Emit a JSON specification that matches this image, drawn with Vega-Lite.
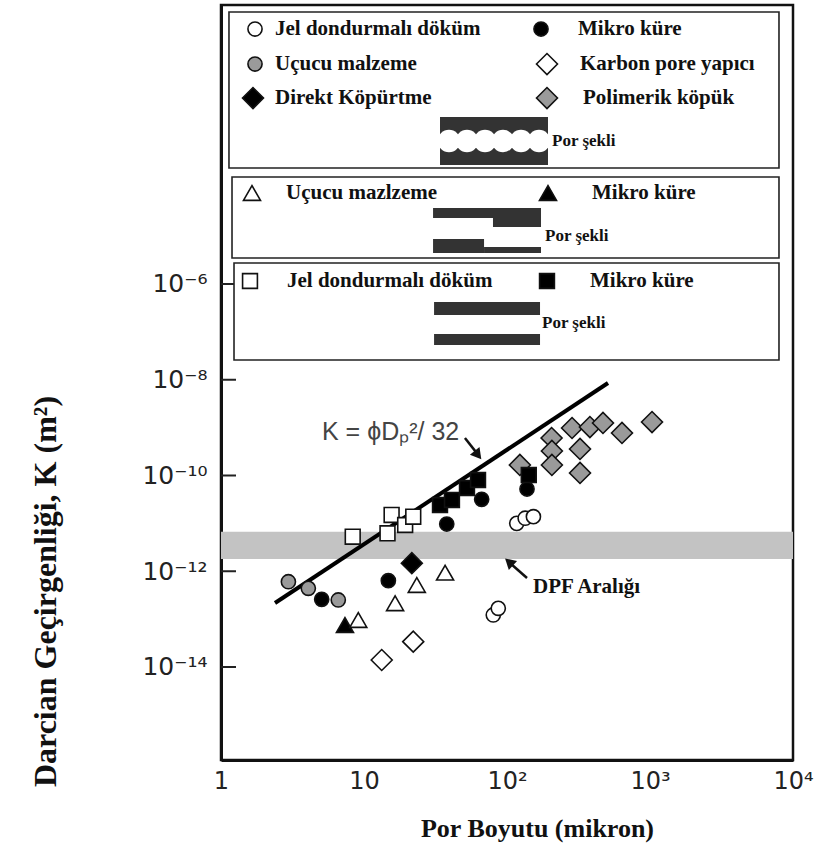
{
  "$schema": "https://vega.github.io/schema/vega-lite/v6.json",
  "width": 572,
  "height": 755,
  "autosize": "none",
  "padding": {"left": 221, "top": 5, "right": 25, "bottom": 85},
  "background": "white",
  "config": {"view": {"stroke": "#111", "strokeWidth": 2.5}, "axis": {"grid": false}},
  "layer": [
    {
      "data": {"values": [{"y": 6.7e-12, "y2": 1.8e-12}]},
      "mark": {"type": "rect", "color": "#c3c3c3"},
      "encoding": {
        "y": {"field": "y", "type": "quantitative", "scale": {"type": "log", "domain": [1.141e-16, 0.6725], "nice": false}},
        "y2": {"field": "y2"}
      }
    },
    {
      "data": {"values": [{"y": 1e-6}, {"y": 1e-8}, {"y": 1e-10}, {"y": 1e-12}, {"y": 1e-14}]},
      "mark": {"type": "rule", "color": "#222", "strokeWidth": 2},
      "encoding": {
        "x": {"datum": 1, "type": "quantitative", "scale": {"type": "log", "domain": [1, 10000], "nice": false}},
        "x2": {"datum": 1.273},
        "y": {"field": "y", "type": "quantitative", "scale": {"type": "log", "domain": [1.141e-16, 0.6725], "nice": false}}
      }
    },
    {
      "data": {"values": [{"x": 2.386, "y": 2.17e-13}, {"x": 508.5, "y": 8.55e-9}]},
      "mark": {"type": "line", "color": "#000", "strokeWidth": 4},
      "encoding": {
        "x": {"field": "x", "type": "quantitative", "scale": {"type": "log", "domain": [1, 10000], "nice": false}},
        "y": {"field": "y", "type": "quantitative", "scale": {"type": "log", "domain": [1.141e-16, 0.6725], "nice": false}}
      }
    },
    {
      "data": {"values": [
        {"x": 1.137, "x2": 7980, "y": 0.48, "y2": 2.65e-4},
        {"x": 1.194, "x2": 7980, "y": 1.72e-4, "y2": 3.49e-6},
        {"x": 1.233, "x2": 7980, "y": 2.75e-6, "y2": 2.59e-8}
      ]},
      "mark": {"type": "rect", "fill": "white", "stroke": "#222", "strokeWidth": 1.6},
      "encoding": {
        "x": {"field": "x", "type": "quantitative", "scale": {"type": "log", "domain": [1, 10000], "nice": false}},
        "x2": {"field": "x2"},
        "y": {"field": "y", "type": "quantitative", "scale": {"type": "log", "domain": [1.141e-16, 0.6725], "nice": false}},
        "y2": {"field": "y2"}
      }
    },
    {
      "data": {"values": [
        {"x": 34.0, "x2": 193.5, "y": 3.08e-3, "y2": 3.06e-4},
        {"x": 30.4, "x2": 172.9, "y": 3.87e-5, "y2": 2.39e-5},
        {"x": 79.8, "x2": 172.9, "y": 2.39e-5, "y2": 1.55e-5},
        {"x": 30.4, "x2": 69.1, "y": 8.71e-6, "y2": 4.44e-6},
        {"x": 69.1, "x2": 172.9, "y": 5.93e-6, "y2": 4.44e-6},
        {"x": 30.9, "x2": 170.2, "y": 4.21e-7, "y2": 2.25e-7},
        {"x": 30.9, "x2": 170.2, "y": 9.03e-8, "y2": 5.32e-8}
      ]},
      "mark": {"type": "rect", "fill": "#333"},
      "encoding": {
        "x": {"field": "x", "type": "quantitative", "scale": {"type": "log", "domain": [1, 10000], "nice": false}},
        "x2": {"field": "x2"},
        "y": {"field": "y", "type": "quantitative", "scale": {"type": "log", "domain": [1.141e-16, 0.6725], "nice": false}},
        "y2": {"field": "y2"}
      }
    },
    {
      "data": {"values": [
        {"x": 39.3, "y": 9.71e-4}, {"x": 52.5, "y": 9.71e-4}, {"x": 70.2, "y": 9.71e-4},
        {"x": 93.8, "y": 9.71e-4}, {"x": 125.3, "y": 9.71e-4}, {"x": 167.4, "y": 9.71e-4}
      ]},
      "mark": {"type": "point", "shape": "circle", "filled": true, "fill": "white", "size": 500, "opacity": 1},
      "encoding": {
        "x": {"field": "x", "type": "quantitative", "scale": {"type": "log", "domain": [1, 10000], "nice": false}},
        "y": {"field": "y", "type": "quantitative", "scale": {"type": "log", "domain": [1.141e-16, 0.6725], "nice": false}}
      }
    },
    {
      "data": {"values": [
        {"grup": "polimerik", "x": 123, "y": 1.66e-10},
        {"grup": "polimerik", "x": 205, "y": 6.07e-10},
        {"grup": "polimerik", "x": 206, "y": 3.25e-10},
        {"grup": "polimerik", "x": 206, "y": 1.66e-10},
        {"grup": "polimerik", "x": 285, "y": 9.82e-10},
        {"grup": "polimerik", "x": 324, "y": 3.58e-10},
        {"grup": "polimerik", "x": 324, "y": 1.13e-10},
        {"grup": "polimerik", "x": 380, "y": 1.03e-9},
        {"grup": "polimerik", "x": 469, "y": 1.25e-9},
        {"grup": "polimerik", "x": 637, "y": 7.73e-10},
        {"grup": "polimerik", "x": 1033, "y": 1.31e-9},
        {"grup": "ucucu_daire", "x": 2.96, "y": 6.05e-13},
        {"grup": "ucucu_daire", "x": 4.08, "y": 4.4e-13},
        {"grup": "ucucu_daire", "x": 6.61, "y": 2.51e-13},
        {"grup": "mikro_daire", "x": 5.06, "y": 2.59e-13},
        {"grup": "mikro_daire", "x": 14.8, "y": 6.35e-13},
        {"grup": "mikro_daire", "x": 37.9, "y": 9.7e-12},
        {"grup": "mikro_daire", "x": 66.5, "y": 3.18e-11},
        {"grup": "mikro_daire", "x": 138, "y": 5.22e-11},
        {"grup": "mikro_ucgen", "x": 7.36, "y": 7.53e-14},
        {"grup": "ucucu_ucgen", "x": 9.12, "y": 9.6e-14},
        {"grup": "ucucu_ucgen", "x": 16.5, "y": 2.14e-13},
        {"grup": "ucucu_ucgen", "x": 23.4, "y": 5.16e-13},
        {"grup": "ucucu_ucgen", "x": 36.9, "y": 9.33e-13},
        {"grup": "direkt", "x": 21.6, "y": 1.47e-12},
        {"grup": "karbon", "x": 13.3, "y": 1.4e-14},
        {"grup": "karbon", "x": 22.1, "y": 3.38e-14},
        {"grup": "jel_daire", "x": 80.2, "y": 1.22e-13},
        {"grup": "jel_daire", "x": 86.9, "y": 1.68e-13},
        {"grup": "jel_daire", "x": 117, "y": 1.0e-11},
        {"grup": "jel_daire", "x": 134, "y": 1.28e-11},
        {"grup": "jel_daire", "x": 153, "y": 1.38e-11},
        {"grup": "jel_kare", "x": 8.34, "y": 5.27e-12},
        {"grup": "jel_kare", "x": 14.6, "y": 6.2e-12},
        {"grup": "jel_kare", "x": 15.6, "y": 1.5e-11},
        {"grup": "jel_kare", "x": 19.4, "y": 9.25e-12},
        {"grup": "jel_kare", "x": 22.1, "y": 1.38e-11},
        {"grup": "mikro_kare", "x": 34.0, "y": 2.42e-11},
        {"grup": "mikro_kare", "x": 41.2, "y": 3.08e-11},
        {"grup": "mikro_kare", "x": 52.5, "y": 5.48e-11},
        {"grup": "mikro_kare", "x": 62.7, "y": 8.05e-11},
        {"grup": "mikro_kare", "x": 142, "y": 1.02e-10}
      ]},
      "mark": {"type": "point", "filled": true, "stroke": "#111", "strokeWidth": 1.6, "opacity": 1},
      "encoding": {
        "x": {
          "field": "x", "type": "quantitative",
          "scale": {"type": "log", "domain": [1, 10000], "nice": false},
          "axis": {
            "values": [1, 10, 100, 1000, 10000],
            "labelExpr": "datum.value < 5 ? '1' : datum.value < 50 ? '10' : datum.value < 500 ? '10²' : datum.value < 5000 ? '10³' : '10⁴'",
            "labelFont": "DejaVu Sans", "labelFontSize": 24, "labelColor": "#222",
            "labelPadding": 9, "labelFlush": false, "labelOverlap": false,
            "ticks": false, "domainColor": "#111", "domainWidth": 3,
            "title": "Por Boyutu (mikron)",
            "titleFont": "Liberation Serif", "titleFontSize": 26, "titleFontWeight": "bold", "titleColor": "#111",
            "titleX": 316, "titleY": 68, "titleAlign": "center", "titleBaseline": "middle"
          }
        },
        "y": {
          "field": "y", "type": "quantitative",
          "scale": {"type": "log", "domain": [1.141e-16, 0.6725], "nice": false},
          "axis": {
            "values": [1e-6, 1e-8, 1e-10, 1e-12, 1e-14],
            "labelExpr": "'10' + (round(log(datum.value)/LN10) == -6 ? '⁻⁶' : round(log(datum.value)/LN10) == -8 ? '⁻⁸' : round(log(datum.value)/LN10) == -10 ? '⁻¹⁰' : round(log(datum.value)/LN10) == -12 ? '⁻¹²' : '⁻¹⁴')",
            "labelFont": "DejaVu Sans", "labelFontSize": 25, "labelColor": "#222",
            "labelPadding": 14, "labelOverlap": false,
            "ticks": false, "domainColor": "#111", "domainWidth": 3,
            "title": "Darcian Geçirgenliği, K (m²)",
            "titleFont": "Liberation Serif", "titleFontSize": 32, "titleFontWeight": "bold", "titleColor": "#111",
            "titleX": -176, "titleY": 586, "titleAngle": 270, "titleAlign": "center", "titleBaseline": "middle"
          }
        },
        "shape": {"field": "grup", "type": "nominal", "legend": null,
          "scale": {"domain": ["jel_daire","ucucu_daire","direkt","mikro_daire","karbon","polimerik","ucucu_ucgen","mikro_ucgen","jel_kare","mikro_kare"],
                    "range": ["circle","circle","diamond","circle","diamond","diamond","triangle-up","triangle-up","square","square"]}},
        "fill": {"field": "grup", "type": "nominal", "legend": null,
          "scale": {"domain": ["jel_daire","ucucu_daire","direkt","mikro_daire","karbon","polimerik","ucucu_ucgen","mikro_ucgen","jel_kare","mikro_kare"],
                    "range": ["#ffffff","#9a9a9a","#000000","#000000","#ffffff","#9a9a9a","#ffffff","#000000","#ffffff","#000000"]}},
        "size": {"field": "grup", "type": "nominal", "legend": null,
          "scale": {"type": "ordinal", "domain": ["jel_daire","ucucu_daire","direkt","mikro_daire","karbon","polimerik","ucucu_ucgen","mikro_ucgen","jel_kare","mikro_kare"],
                    "range": [200,200,440,200,440,440,290,290,220,220]}}
      }
    },
    {
      "data": {"values": [
        {"grup": "jel_daire", "sx": 1.729, "tx": 2.386, "y": 0.212, "etiket": "Jel dondurmalı döküm"},
        {"grup": "mikro_daire", "sx": 172.9, "tx": 313.7, "y": 0.212, "etiket": "Mikro küre"},
        {"grup": "ucucu_daire", "sx": 1.729, "tx": 2.386, "y": 0.03937, "etiket": "Uçucu malzeme"},
        {"grup": "karbon", "sx": 190.4, "tx": 324.0, "y": 0.03937, "etiket": "Karbon pore yapıcı"},
        {"grup": "direkt", "sx": 1.674, "tx": 2.386, "y": 7.67e-3, "etiket": "Direkt Köpürtme"},
        {"grup": "polimerik", "sx": 190.4, "tx": 340.1, "y": 7.67e-3, "etiket": "Polimerik köpük"},
        {"grup": "ucucu_ucgen", "sx": 1.647, "tx": 2.848, "y": 7.96e-5, "etiket": "Uçucu mazlzeme"},
        {"grup": "mikro_ucgen", "sx": 193.5, "tx": 393.0, "y": 7.96e-5, "etiket": "Mikro küre"},
        {"grup": "jel_kare", "sx": 1.595, "tx": 2.894, "y": 1.155e-6, "etiket": "Jel dondurmalı döküm"},
        {"grup": "mikro_kare", "sx": 190.4, "tx": 380.6, "y": 1.155e-6, "etiket": "Mikro küre"}
      ]},
      "layer": [
        {
          "mark": {"type": "point", "filled": true, "stroke": "#111", "strokeWidth": 1.6, "opacity": 1},
          "encoding": {
            "x": {"field": "sx", "type": "quantitative", "scale": {"type": "log", "domain": [1, 10000], "nice": false}},
            "y": {"field": "y", "type": "quantitative", "scale": {"type": "log", "domain": [1.141e-16, 0.6725], "nice": false}},
            "shape": {"field": "grup", "type": "nominal", "legend": null,
              "scale": {"domain": ["jel_daire","ucucu_daire","direkt","mikro_daire","karbon","polimerik","ucucu_ucgen","mikro_ucgen","jel_kare","mikro_kare"],
                        "range": ["circle","circle","diamond","circle","diamond","diamond","triangle-up","triangle-up","square","square"]}},
            "fill": {"field": "grup", "type": "nominal", "legend": null,
              "scale": {"domain": ["jel_daire","ucucu_daire","direkt","mikro_daire","karbon","polimerik","ucucu_ucgen","mikro_ucgen","jel_kare","mikro_kare"],
                        "range": ["#ffffff","#9a9a9a","#000000","#000000","#ffffff","#9a9a9a","#ffffff","#000000","#ffffff","#000000"]}},
            "size": {"field": "grup", "type": "nominal", "legend": null,
              "scale": {"type": "ordinal", "domain": ["jel_daire","ucucu_daire","direkt","mikro_daire","karbon","polimerik","ucucu_ucgen","mikro_ucgen","jel_kare","mikro_kare"],
                        "range": [200,200,440,200,440,440,290,290,220,220]}}
          }
        },
        {
          "mark": {"type": "text", "font": "Liberation Serif", "fontWeight": "bold", "fontSize": 21, "align": "left", "baseline": "middle", "color": "#111"},
          "encoding": {
            "x": {"field": "tx", "type": "quantitative", "scale": {"type": "log", "domain": [1, 10000], "nice": false}},
            "y": {"field": "y", "type": "quantitative", "scale": {"type": "log", "domain": [1.141e-16, 0.6725], "nice": false}},
            "text": {"field": "etiket"}
          }
        }
      ]
    },
    {
      "data": {"values": [
        {"x": 206.4, "y": 9.71e-4, "etiket": "Por şekli"},
        {"x": 184.4, "y": 1.006e-5, "etiket": "Por şekli"},
        {"x": 175.7, "y": 1.53e-7, "etiket": "Por şekli"}
      ]},
      "mark": {"type": "text", "font": "Liberation Serif", "fontWeight": "bold", "fontSize": 17, "align": "left", "baseline": "middle", "color": "#111"},
      "encoding": {
        "x": {"field": "x", "type": "quantitative", "scale": {"type": "log", "domain": [1, 10000], "nice": false}},
        "y": {"field": "y", "type": "quantitative", "scale": {"type": "log", "domain": [1.141e-16, 0.6725], "nice": false}},
        "text": {"field": "etiket"}
      }
    },
    {
      "data": {"values": [{"x": 152.0, "y": 4.69e-13, "etiket": "DPF Aralığı"}]},
      "mark": {"type": "text", "font": "Liberation Serif", "fontWeight": "bold", "fontSize": 21, "align": "left", "baseline": "middle", "color": "#111"},
      "encoding": {
        "x": {"field": "x", "type": "quantitative", "scale": {"type": "log", "domain": [1, 10000], "nice": false}},
        "y": {"field": "y", "type": "quantitative", "scale": {"type": "log", "domain": [1.141e-16, 0.6725], "nice": false}},
        "text": {"field": "etiket"}
      }
    },
    {
      "data": {"values": [{"x": 5.085, "y": 8.1e-10, "etiket": "K = ϕDₚ²/ 32"}]},
      "mark": {"type": "text", "font": "Liberation Sans", "fontSize": 25, "align": "left", "baseline": "middle", "color": "#444"},
      "encoding": {
        "x": {"field": "x", "type": "quantitative", "scale": {"type": "log", "domain": [1, 10000], "nice": false}},
        "y": {"field": "y", "type": "quantitative", "scale": {"type": "log", "domain": [1.141e-16, 0.6725], "nice": false}},
        "text": {"field": "etiket"}
      }
    },
    {
      "data": {"values": [
        {"ok": "formul", "x": 50.8, "y": 6.07e-10},
        {"ok": "formul", "x": 63.5, "y": 2.6e-10},
        {"ok": "dpf", "x": 138.0, "y": 7.23e-13},
        {"ok": "dpf", "x": 102.0, "y": 1.6e-12}
      ]},
      "mark": {"type": "line", "color": "#111", "strokeWidth": 2.5},
      "encoding": {
        "x": {"field": "x", "type": "quantitative", "scale": {"type": "log", "domain": [1, 10000], "nice": false}},
        "y": {"field": "y", "type": "quantitative", "scale": {"type": "log", "domain": [1.141e-16, 0.6725], "nice": false}},
        "detail": {"field": "ok"}
      }
    },
    {
      "data": {"values": [{"x": 62.7, "y": 2.68e-10}]},
      "mark": {"type": "point", "shape": "triangle-up", "filled": true, "color": "#111", "size": 150, "angle": 141.5, "opacity": 1},
      "encoding": {
        "x": {"field": "x", "type": "quantitative", "scale": {"type": "log", "domain": [1, 10000], "nice": false}},
        "y": {"field": "y", "type": "quantitative", "scale": {"type": "log", "domain": [1.141e-16, 0.6725], "nice": false}}
      }
    },
    {
      "data": {"values": [{"x": 103.3, "y": 1.56e-12}]},
      "mark": {"type": "point", "shape": "triangle-up", "filled": true, "color": "#111", "size": 150, "angle": 312.3, "opacity": 1},
      "encoding": {
        "x": {"field": "x", "type": "quantitative", "scale": {"type": "log", "domain": [1, 10000], "nice": false}},
        "y": {"field": "y", "type": "quantitative", "scale": {"type": "log", "domain": [1.141e-16, 0.6725], "nice": false}}
      }
    }
  ]
}
